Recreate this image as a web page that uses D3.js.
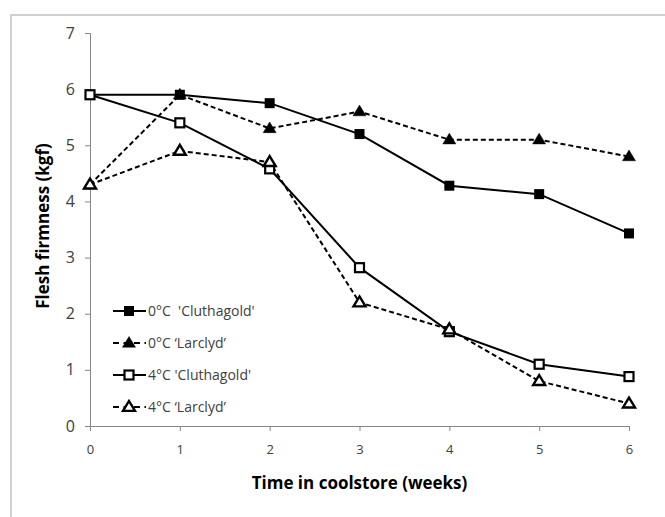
<!DOCTYPE html>
<html>
<head>
<meta charset="utf-8">
<script src="https://cdn.jsdelivr.net/npm/d3@7"></script>
<style>
  body { margin: 0; background: #fff; }
  text { font-family: "Open Sans", "Liberation Sans", sans-serif; }
</style>
</head>
<body>
<div class="chart"></div>
<script>
var svgWidth = 665;
var svgHeight = 517;

var margin = { top: 33, right: 36, bottom: 91, left: 90 };
var width = svgWidth - margin.left - margin.right;
var height = svgHeight - margin.top - margin.bottom;

// data
var weeks = [0, 1, 2, 3, 4, 5, 6];
var yTicks = [0, 1, 2, 3, 4, 5, 6, 7];
var seriesNames = ["0\u00b0C  'Cluthagold'", "0\u00b0C \u2018Larclyd\u2019", "4\u00b0C 'Cluthagold'", "4\u00b0C \u2018Larclyd\u2019"];
var cluthagold0 = [5.9, 5.9, 5.75, 5.2, 4.28, 4.13, 3.43];
var larclyd0 = [4.3, 5.9, 5.3, 5.6, 5.1, 5.1, 4.8];
var cluthagold4 = [5.9, 5.4, 4.58, 2.82, 1.68, 1.1, 0.88];
var larclyd4 = [4.3, 4.9, 4.7, 2.2, 1.72, 0.8, 0.4];

var series = [
  { name: seriesNames[0], values: cluthagold0, dashed: false, shape: "square", filled: true },
  { name: seriesNames[1], values: larclyd0, dashed: true, shape: "triangle", filled: true },
  { name: seriesNames[2], values: cluthagold4, dashed: false, shape: "square", filled: false },
  { name: seriesNames[3], values: larclyd4, dashed: true, shape: "triangle", filled: false }
];

var svg = d3.select(".chart")
  .append("svg")
  .attr("width", svgWidth)
  .attr("height", svgHeight);

// light frame (only top and left edges visible)
svg.append("path")
  .attr("d", "M11,517 V15 H665")
  .attr("fill", "none")
  .attr("stroke", "#d0d0d0")
  .attr("stroke-width", 2);

var chartGroup = svg.append("g")
  .attr("transform", `translate(${margin.left}, ${margin.top})`);

var xScale = d3.scaleLinear().domain([0, 6]).range([0, width]);
var yScale = d3.scaleLinear().domain([0, 7]).range([height, 0]);

var bottomAxis = d3.axisBottom(xScale).tickValues(weeks).tickFormat(d3.format("d")).tickSize(5).tickPadding(14);
var leftAxis = d3.axisLeft(yScale).tickValues(yTicks).tickFormat(d3.format("d")).tickSize(5).tickPadding(10);

var xAxis = chartGroup.append("g")
  .attr("transform", `translate(0, ${height})`)
  .call(bottomAxis);

var yAxis = chartGroup.append("g")
  .call(leftAxis);

[xAxis, yAxis].forEach(function(ax) {
  ax.select(".domain").attr("stroke", "#868686");
  ax.selectAll(".tick line").attr("stroke", "#868686");
  ax.selectAll("text").attr("fill", "#404040").style("font-family", "Open Sans");
});
xAxis.selectAll("text").style("font-size", "13px");
yAxis.selectAll("text").style("font-size", "16px");

// symbol drawing
function drawMarker(g, s, x, y) {
  if (s.shape === "square") {
    var sz = s.filled ? 10 : 9;
    g.append("rect")
      .attr("x", x - sz / 2)
      .attr("y", y - sz / 2)
      .attr("width", sz)
      .attr("height", sz)
      .attr("fill", s.filled ? "#000" : "#fff")
      .attr("stroke", "#000")
      .attr("stroke-width", s.filled ? 0 : 2.2);
  } else {
    var r = s.filled ? 6.5 : 6;
    var pts = [[x, y - r], [x + r, y + r * 0.65], [x - r, y + r * 0.65]];
    g.append("path")
      .attr("d", "M" + pts.join("L") + "Z")
      .attr("fill", s.filled ? "#000" : "#fff")
      .attr("stroke", "#000")
      .attr("stroke-width", s.filled ? 0.5 : 2.4)
      .attr("stroke-linejoin", "miter");
  }
}

var line = d3.line()
  .x((d, i) => xScale(weeks[i]))
  .y(d => yScale(d));

series.forEach(function(s) {
  chartGroup.append("path")
    .datum(s.values)
    .attr("d", line)
    .attr("fill", "none")
    .attr("stroke", "#000")
    .attr("stroke-width", 2)
    .attr("stroke-dasharray", s.dashed ? "5,3" : null);
});

series.forEach(function(s) {
  var mg = chartGroup.append("g");
  s.values.forEach(function(v, i) {
    drawMarker(mg, s, xScale(weeks[i]), yScale(v));
  });
});

// legend
var legend = svg.append("g");
series.forEach(function(s, i) {
  var ly = 311 + i * 32;
  legend.append("line")
    .attr("x1", 113).attr("x2", 146)
    .attr("y1", ly).attr("y2", ly)
    .attr("stroke", "#000")
    .attr("stroke-width", 2.2)
    .attr("stroke-dasharray", s.dashed ? "6,4.5" : null);
  drawMarker(legend, s, 129, ly);
  legend.append("text")
    .attr("x", 148)
    .attr("y", ly)
    .attr("dy", "0.35em")
    .attr("fill", "#404040")
    .style("font-size", "14px")
    .style("white-space", "pre")
    .text(s.name);
});

// axis titles
svg.append("text")
  .attr("x", margin.left + width / 2)
  .attr("y", 489)
  .attr("text-anchor", "middle")
  .style("font-size", "17px")
  .style("font-weight", "bold")
  .text("Time in coolstore (weeks)");

svg.append("text")
  .attr("transform", "translate(49, 226) rotate(-90)")
  .attr("text-anchor", "middle")
  .style("font-size", "17px")
  .style("font-weight", "bold")
  .text("Flesh firmness (kgf)");
</script>
</body>
</html>
